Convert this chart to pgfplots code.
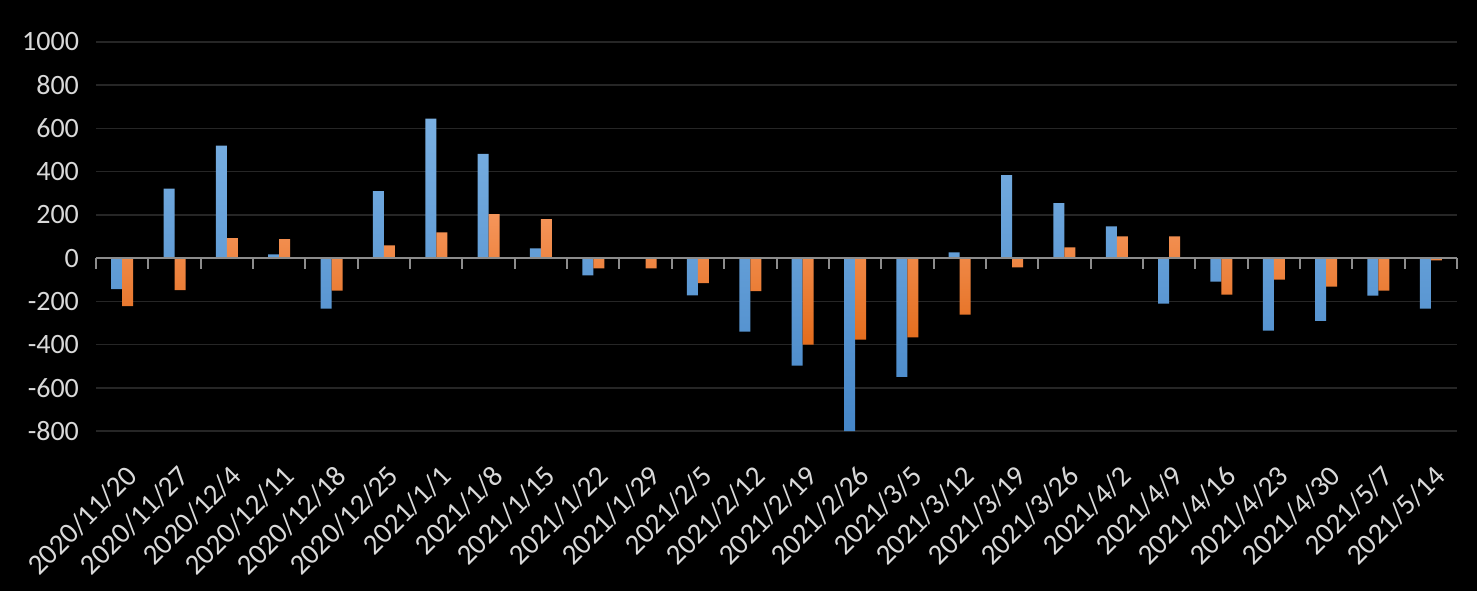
\documentclass[border=0pt]{standalone}
\usepackage{fontspec}
\setmainfont{Carlito}
\usepackage{pgfplots}
\pgfplotsset{compat=1.18}
\definecolor{lbl}{HTML}{D9D9D9}
\definecolor{gridc}{HTML}{262626}
\definecolor{axc}{HTML}{8C8C8C}
\definecolor{blueT}{HTML}{7AB0E2}
\definecolor{blueB}{HTML}{4586C8}
\definecolor{orT}{HTML}{F5955A}
\definecolor{orB}{HTML}{E36C1C}
\begin{document}
\begin{tikzpicture}
\path[use as bounding box, fill=black] (-48pt,-80pt) rectangle (690.5pt,215.5pt);
\begin{axis}[
  at={(0,0)}, anchor=south west,
  scale only axis, width=680.5pt, height=194.5pt,
  xmin=-0.5, xmax=25.5, ymin=-800, ymax=1000,
  axis line style={draw=none},
  major tick length=0pt,
  ytick={-800,-600,...,1000},
  xtick={0,...,25},
  xticklabels={2020/11/20,2020/11/27,2020/12/4,2020/12/11,2020/12/18,2020/12/25,2021/1/1,2021/1/8,2021/1/15,2021/1/22,2021/1/29,2021/2/5,2021/2/12,2021/2/19,2021/2/26,2021/3/5,2021/3/12,2021/3/19,2021/3/26,2021/4/2,2021/4/9,2021/4/16,2021/4/23,2021/4/30,2021/5/7,2021/5/14},
  ymajorgrids,
  grid style={color=gridc, line width=0.75pt},
  tick label style={font=\fontsize{14}{16}\selectfont, text=lbl},
  /pgf/number format/assume math mode=true,
  /pgf/number format/1000 sep={},
  yticklabel style={xshift=-5pt},
  xticklabel style={xshift=1pt, yshift=-16pt, rotate=45, anchor=north east, inner sep=0pt, font=\fontsize{14.5}{16}\selectfont},
  clip=false,
]
\addplot[ybar, bar width=5.5pt, bar shift=-2.75pt, draw=none, top color=blueT, bottom color=blueB] coordinates {
(0,-143) (1,322) (2,520) (3,17) (4,-234) (5,310) (6,645) (7,482) (8,45) (9,-80) (10,-4) (11,-172) (12,-340) (13,-498) (14,-800) (15,-549) (16,27) (17,384) (18,254) (19,147) (20,-211) (21,-109) (22,-336) (23,-290) (24,-174) (25,-234)};
\addplot[ybar, bar width=5.5pt, bar shift=2.75pt, draw=none, top color=orT, bottom color=orB] coordinates {
(0,-222) (1,-148) (2,92) (3,88) (4,-150) (5,59) (6,119) (7,203) (8,180) (9,-47) (10,-47) (11,-116) (12,-153) (13,-400) (14,-377) (15,-367) (16,-262) (17,-43) (18,50) (19,101) (20,101) (21,-169) (22,-99) (23,-132) (24,-150) (25,-11)};
\addplot[ycomb, color=axc, line width=1pt, mark=none] coordinates {
(-0.5,-50) (0.5,-50) (1.5,-50) (2.5,-50) (3.5,-50) (4.5,-50) (5.5,-50) (6.5,-50) (7.5,-50) (8.5,-50) (9.5,-50) (10.5,-50) (11.5,-50) (12.5,-50) (13.5,-50) (14.5,-50) (15.5,-50) (16.5,-50) (17.5,-50) (18.5,-50) (19.5,-50) (20.5,-50) (21.5,-50) (22.5,-50) (23.5,-50) (24.5,-50) (25.5,-50)};
\addplot[color=axc, line width=1pt, mark=none] coordinates {(-0.5,0) (25.5,0)};
\end{axis}
\end{tikzpicture}
\end{document}
